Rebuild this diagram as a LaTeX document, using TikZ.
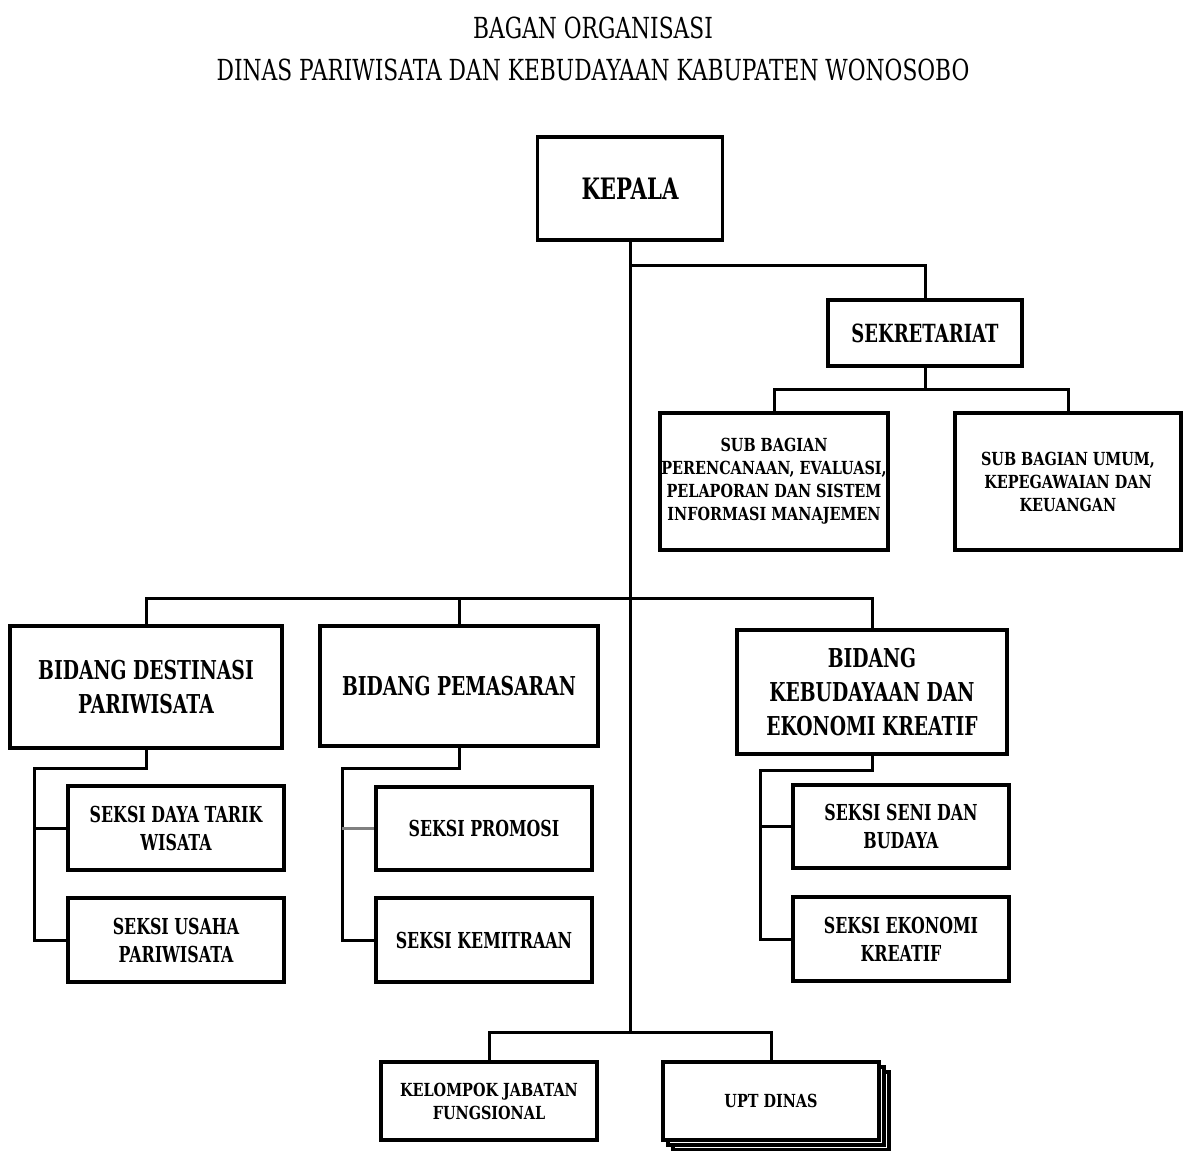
\documentclass[tikz,border=0pt]{standalone}
\usepackage{fontspec}
\newfontfamily\titlefont{DejaVu Serif}[FakeStretch=0.75]
\newfontfamily\boxfont{DejaVu Serif}[FakeStretch=0.72]
\newfontfamily\smallfont{DejaVu Serif}[FakeStretch=0.8]
\begin{document}
\begin{tikzpicture}[x=1pt,y=-1pt,
  box/.style={draw, line width=3.5pt, fill=white, align=center, inner sep=0pt, font=\boxfont\bfseries},
  conn/.style={line width=3pt},
  head/.style={font=\boxfont\bfseries\fontsize{29.5}{34}\selectfont},
  big/.style={font=\boxfont\bfseries\fontsize{26}{34}\selectfont},
  mid/.style={font=\boxfont\bfseries\fontsize{25}{28}\selectfont},
  sml/.style={font=\boxfont\bfseries\fontsize{22}{28}\selectfont},
  tiny/.style={font=\smallfont\bfseries\fontsize{18}{23}\selectfont},
  ttl/.style={font=\titlefont\fontsize{29}{32}\selectfont, inner sep=0pt}]
\useasboundingbox (0,0) rectangle (1186,1151);
\clip (0,0) rectangle (1186,1151);
% title
\node[ttl] (t1) at (593,28) {BAGAN ORGANISASI};
\node[ttl] (t2) at (593,70) {DINAS PARIWISATA DAN KEBUDAYAAN KABUPATEN WONOSOBO};
% boxes
\node[box, head, minimum width=185pt, minimum height=103pt] (kepala) at (630,188.5) {KEPALA};
\node[box, mid, minimum width=194pt, minimum height=66pt] (sek) at (925,333) {SEKRETARIAT};
\node[box, tiny, minimum width=228pt, minimum height=137pt] (sb1) at (774,481.5) {SUB BAGIAN\\PERENCANAAN, EVALUASI,\\PELAPORAN DAN SISTEM\\INFORMASI MANAJEMEN};
\node[box, tiny, minimum width=226pt, minimum height=137pt] (sb2) at (1068,481.5) {SUB BAGIAN UMUM,\\KEPEGAWAIAN DAN\\KEUANGAN};
\node[box, big, minimum width=272pt, minimum height=122pt] (dest) at (146,687) {BIDANG DESTINASI\\PARIWISATA};
\node[box, big, minimum width=278pt, minimum height=120pt] (pem) at (459,686) {BIDANG PEMASARAN};
\node[box, big, minimum width=270pt, minimum height=124pt] (keb) at (872,692) {BIDANG\\KEBUDAYAAN DAN\\EKONOMI KREATIF};
\node[box, sml, minimum width=216pt, minimum height=84pt] (sdt) at (176,828) {SEKSI DAYA TARIK\\WISATA};
\node[box, sml, minimum width=216pt, minimum height=84pt] (sup) at (176,940) {SEKSI USAHA\\PARIWISATA};
\node[box, sml, minimum width=216pt, minimum height=83pt] (spr) at (484,828.5) {SEKSI PROMOSI};
\node[box, sml, minimum width=216pt, minimum height=84pt] (skm) at (484,940) {SEKSI KEMITRAAN};
\node[box, sml, minimum width=216pt, minimum height=83pt] (ssb) at (901,826.5) {SEKSI SENI DAN\\BUDAYA};
\node[box, sml, minimum width=216pt, minimum height=84pt] (sek2) at (901,939) {SEKSI EKONOMI\\KREATIF};
\node[box, tiny, minimum width=216pt, minimum height=78pt] (kjf) at (489,1101) {KELOMPOK JABATAN\\FUNGSIONAL};
\node[box, minimum width=216pt, minimum height=78pt] (upt3) at (781,1111) {};
\node[box, minimum width=216pt, minimum height=78pt] (upt2) at (776,1106) {};
\node[box, tiny, minimum width=216pt, minimum height=78pt] (upt) at (771,1101) {UPT DINAS};
% connectors
\coordinate (j1) at (630,265);
\coordinate (j2) at (630,598);
\coordinate (j3) at (630,1032);
\draw[conn] (kepala.south) -- (j3);
\draw[conn] (j1) -| (sek.north);
\draw[conn] (sek.south) -- ++(0,22) coordinate (js);
\draw[conn] (js) -| (sb1.north);
\draw[conn] (js) -| (sb2.north);
\draw[conn] (j2) -| (dest.north);
\draw[conn] (j2) -| (pem.north);
\draw[conn] (j2) -| (keb.north);
\draw[conn] (j3) -| (kjf.north);
\draw[conn] (j3) -| (upt.north);
% seksi
\coordinate (c1) at (34,768);
\draw[conn] (dest.south) |- (c1) |- (sup.west);
\draw[conn] (c1 |- sdt.west) -- (sdt.west);
\coordinate (c2) at (342,768);
\draw[conn] (pem.south) |- (c2) |- (skm.west);
\draw[conn, gray] (c2 |- spr.west) -- (spr.west);
\coordinate (c3) at (760,770);
\draw[conn] (keb.south) |- (c3) |- (sek2.west);
\draw[conn] (c3 |- ssb.west) -- (ssb.west);
\end{tikzpicture}
\end{document}
